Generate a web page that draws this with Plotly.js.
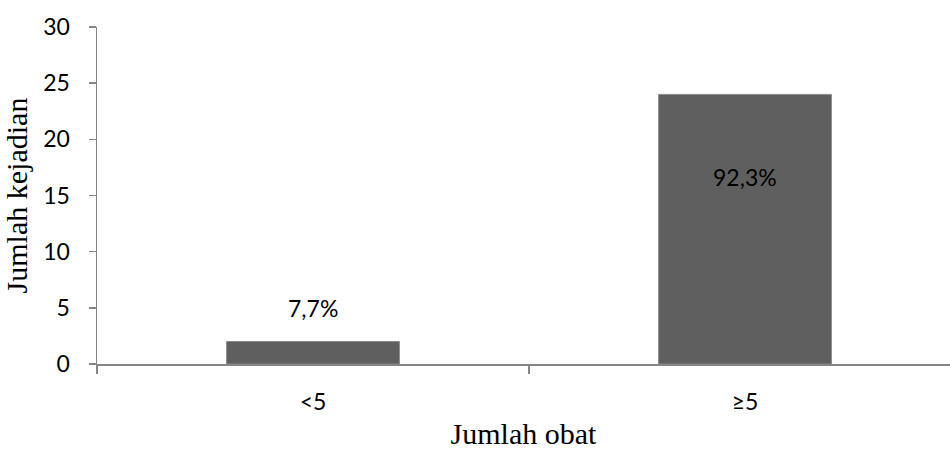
<!DOCTYPE html>
<html>
<head>
<meta charset="utf-8">
<script src="https://cdn.plot.ly/plotly-3.0.1.min.js"></script>
<style>
  html, body { margin: 0; padding: 0; background: #fff; }
  #chart { width: 950px; height: 450px; }
</style>
</head>
<body>
<div id="chart"></div>
<script>
// Number of events by number of drugs taken
const categories = ['<5', '≥5'];
const counts = [2, 24];
// Label offsets (px) relative to each bar's top
const labelShift = [34, -83];

const total = counts.reduce((a, b) => a + b, 0);
const pctText = counts.map(v => (v / total * 100).toFixed(1).replace('.', ',') + '%');
const xIdx = categories.map((_, i) => i);

const axisGrey = '#868686';
const tickFont = { family: 'Lato, "Open Sans", sans-serif', size: 23, color: '#000' };
const titleFont = { family: '"Liberation Serif", serif', size: 30, color: '#000' };

const trace = {
  type: 'bar',
  x: xIdx,
  y: counts,
  width: 0.4,
  marker: { color: '#5f5f5f', line: { color: '#8a8a8a', width: 1 } },
  hoverinfo: 'skip'
};

const annotations = counts.map((v, i) => ({
  x: xIdx[i], y: v, xref: 'x', yref: 'y',
  text: pctText[i], showarrow: false,
  yshift: labelShift[i],
  font: { family: tickFont.family, size: 23, color: '#000' }
}));

// the plot area continues past the right edge of the page
const pxPerCat = 432, plotWidth = 853;

const layout = {
  width: 950, height: 450,
  margin: { l: 97, r: 0, t: 27, b: 86 },
  paper_bgcolor: '#fff', plot_bgcolor: '#fff',
  showlegend: false,
  xaxis: {
    type: 'linear',
    range: [-0.5, -0.5 + plotWidth / pxPerCat],
    tickmode: 'array', tickvals: xIdx, ticktext: categories,
    ticks: '', tickfont: tickFont, ticklabelstandoff: 17,
    showline: true, linecolor: axisGrey, linewidth: 1.5,
    showgrid: false, zeroline: false,
    minor: { tickmode: 'array', tickvals: [-0.5, 0.5, 1.5], ticks: 'outside', ticklen: 8, tickcolor: axisGrey, tickwidth: 1.5, showgrid: false },
    title: { text: 'Jumlah obat', font: titleFont, standoff: 12 },
    automargin: false, fixedrange: true
  },
  yaxis: {
    range: [0, 30], dtick: 5, tick0: 0,
    ticks: 'outside', ticklen: 7, tickcolor: axisGrey, tickwidth: 1.5,
    tickfont: tickFont, ticklabelstandoff: 14,
    showline: true, linecolor: axisGrey, linewidth: 1.5,
    showgrid: false, zeroline: false,
    title: { text: 'Jumlah kejadian', font: titleFont, standoff: 8 },
    automargin: false, fixedrange: true
  },
  annotations: annotations
};

Plotly.newPlot('chart', [trace], layout, { staticPlot: true, displayModeBar: false });
</script>
</body>
</html>
